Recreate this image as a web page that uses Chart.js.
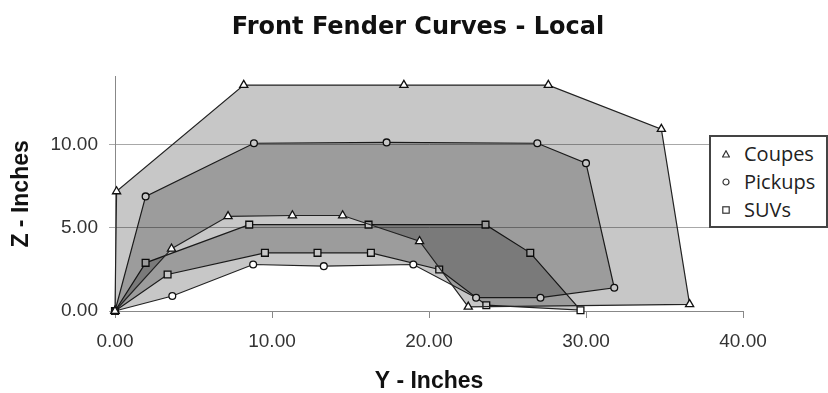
<!DOCTYPE html>
<html>
<head>
<meta charset="utf-8">
<title>Front Fender Curves - Local</title>
<script src="https://cdn.jsdelivr.net/npm/chart.js@4.4.1/dist/chart.umd.min.js"></script>
<style>
    body { margin: 0; background: #fff; }
    #wrap { position: relative; width: 828px; height: 393px; }
    #legendBox {
        position: absolute;
        left: 709px;
        top: 135px;
        width: 115px;
        height: 89px;
        background: #fff;
        border: 2px solid #444;
        font-family: "Open Sans", sans-serif;
        font-size: 20px;
        color: #222;
    }
    .row { position: absolute; left: 0; height: 28px; line-height: 28px; }
    .row svg { position: absolute; left: 11px; top: 10px; }
    .row span { position: absolute; left: 33px; white-space: nowrap; }
</style>
</head>
<body>
<div id="wrap">
    <canvas id="fenderChart" width="828" height="393"></canvas>
    <div id="legendBox"></div>
</div>
<script>
// horizontal position (Y - Inches) and height (Z - Inches) of each curve point,
// listed in order round the outline so the last point closes the shape
const coupesY = [0, 0.1, 8.2, 18.4, 27.6, 34.8, 36.6, 22.5, 19.4, 14.5, 11.3, 7.2, 3.6, 0];
const coupesZ = [0, 7.2, 13.6, 13.6, 13.6, 10.95, 0.4, 0.25, 4.2, 5.75, 5.75, 5.7, 3.75, 0];

const pickupsY = [0, 1.95, 8.85, 17.3, 26.9, 30.0, 31.8, 27.1, 23.0, 19.0, 13.3, 8.8, 3.65, 0];
const pickupsZ = [0, 6.9, 10.1, 10.15, 10.1, 8.9, 1.4, 0.8, 0.8, 2.8, 2.7, 2.8, 0.9, 0];

const suvsY = [0, 1.95, 8.55, 16.15, 23.6, 26.45, 29.65, 23.65, 20.65, 16.3, 12.9, 9.55, 3.35, 0];
const suvsZ = [0, 2.9, 5.2, 5.2, 5.2, 3.5, 0.05, 0.35, 2.5, 3.5, 3.5, 3.5, 2.2, 0];

const seriesNames = ["Coupes", "Pickups", "SUVs"];
const xTicks = [0, 10, 20, 30, 40];
const yTicks = [0, 5, 10];

function toPoints(ys, zs) {
    return ys.map((y, i) => ({ x: y, y: zs[i] }));
}

function curve(label, ys, zs, style, radius) {
    return {
        label: label,
        data: toPoints(ys, zs),
        showLine: true,
        tension: 0,
        fill: "shape",
        backgroundColor: "rgba(0, 0, 0, 0.22)",
        borderColor: "#222",
        borderWidth: 1.2,
        pointStyle: style,
        pointRadius: radius,
        pointBackgroundColor: "#fff",
        pointBorderColor: "#111",
        pointBorderWidth: 1.3,
        clip: false
    };
}

const tickFont = { family: "'Liberation Sans', Arial, sans-serif", size: 19 };
const titleFont = { family: "'Liberation Sans', Arial, sans-serif", size: 23, weight: "bold", lineHeight: 1 };

new Chart(document.getElementById("fenderChart"), {
    type: "scatter",
    data: {
        datasets: [
            curve(seriesNames[0], coupesY, coupesZ, "triangle", 4.7),
            curve(seriesNames[1], pickupsY, pickupsZ, "circle", 3.4),
            curve(seriesNames[2], suvsY, suvsZ, "rect", 4.8)
        ]
    },
    options: {
        responsive: false,
        animation: false,
        layout: { padding: { left: 8, right: 0, top: 0, bottom: 0 } },
        plugins: {
            legend: { display: false },
            tooltip: { enabled: false },
            title: {
                display: true,
                text: "Front Fender Curves - Local",
                color: "#111",
                font: { family: "'DejaVu Sans', sans-serif", size: 24, weight: "bold", lineHeight: 1.2 },
                padding: { top: 13, bottom: 35 }
            }
        },
        scales: {
            x: {
                type: "linear",
                min: 0,
                max: 40,
                afterBuildTicks: (scale) => { scale.ticks = xTicks.map(v => ({ value: v })); },
                afterFit: (scale) => { scale.height = 82; },
                ticks: {
                    color: "#333",
                    font: tickFont,
                    padding: 12,
                    maxRotation: 0,
                    callback: (v) => Number(v).toFixed(2)
                },
                grid: { drawOnChartArea: false, color: "#888", tickLength: 7 },
                border: { color: "#888", width: 1 },
                title: {
                    display: true,
                    text: "Y - Inches",
                    color: "#111",
                    font: titleFont,
                    padding: { top: 0, bottom: 0 }
                }
            },
            y: {
                type: "linear",
                min: 0,
                max: 14.1,
                afterBuildTicks: (scale) => { scale.ticks = yTicks.map(v => ({ value: v })); },
                afterFit: (scale) => { scale.width = 107; },
                ticks: {
                    color: "#333",
                    font: tickFont,
                    padding: 11,
                    callback: (v) => Number(v).toFixed(2)
                },
                grid: { color: "#a8a8a8", tickLength: 6 },
                border: { color: "#888", width: 1 },
                title: {
                    display: true,
                    text: "Z - Inches",
                    color: "#111",
                    font: titleFont,
                    padding: { top: 2.5, bottom: 0 }
                }
            },
            // empty right-hand axis that keeps room for the legend box
            spacer: {
                type: "linear",
                position: "right",
                axis: "y",
                min: 0,
                max: 14.1,
                afterFit: (scale) => { scale.width = 85; },
                ticks: { display: false },
                grid: { display: false },
                border: { display: false }
            }
        }
    }
});

// legend box sitting over the right edge of the plot
const markerSvg = {
    triangle: '<polygon points="4,0.8 7.4,7 0.6,7" fill="#fff" stroke="#333" stroke-width="1.2"/>',
    circle: '<circle cx="4" cy="4" r="3" fill="#fff" stroke="#333" stroke-width="1.2"/>',
    rect: '<rect x="0.8" y="0.8" width="6.4" height="6.4" fill="#fff" stroke="#333" stroke-width="1.2"/>'
};
const markerStyles = ["triangle", "circle", "rect"];
const legendBox = document.getElementById("legendBox");
seriesNames.forEach((name, i) => {
    const row = document.createElement("div");
    row.className = "row";
    row.style.top = (3 + i * 28) + "px";
    row.innerHTML = '<svg width="8" height="8">' + markerSvg[markerStyles[i]] + '</svg><span>' + name + '</span>';
    legendBox.appendChild(row);
});
</script>
</body>
</html>
